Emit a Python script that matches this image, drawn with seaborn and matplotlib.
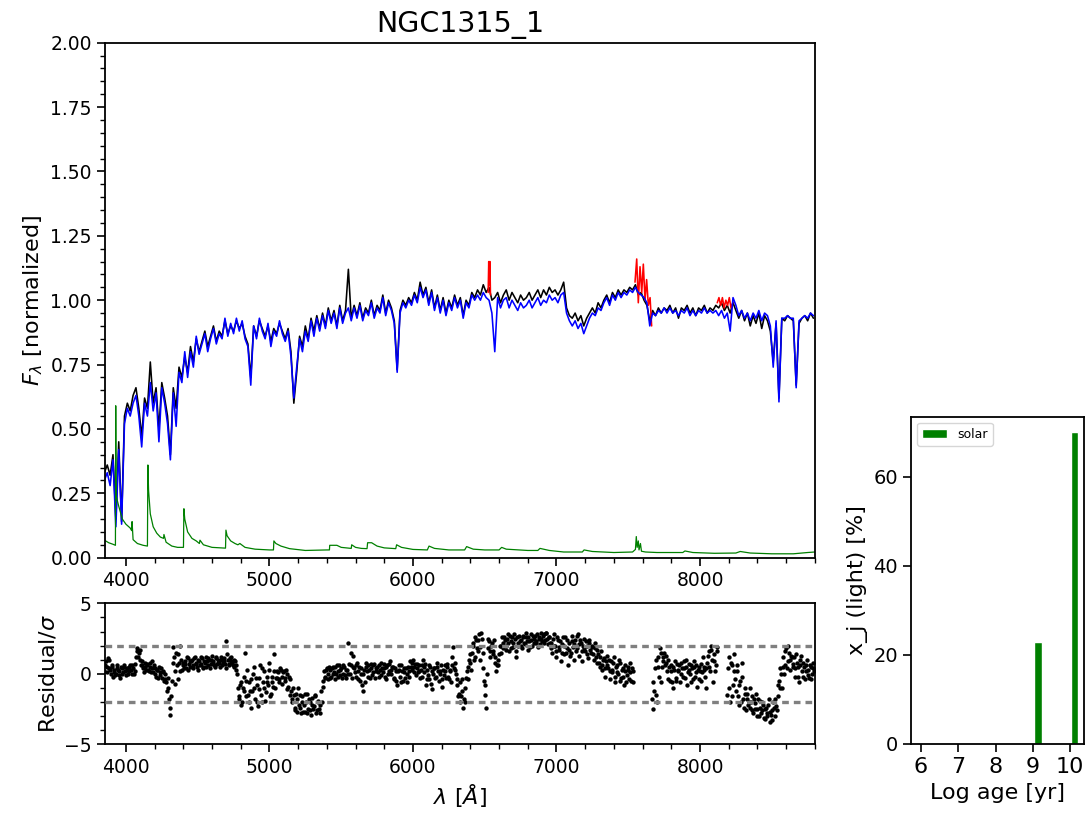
import numpy as np
import pandas as pd
import matplotlib
matplotlib.use("Agg")
import matplotlib.pyplot as plt
import seaborn as sns
from matplotlib.patches import Patch

# ---------------- data ----------------
title = "NGC1315_1"

# observed & model spectra on a 20 A grid starting at 3850 A
spec_start, spec_step = 3850, 20
obs_flux = [
    0.33, 0.36, 0.32, 0.40, 0.15, 0.45, 0.14, 0.55, 0.60, 0.57,
    0.63, 0.66, 0.58, 0.47, 0.62, 0.58, 0.76, 0.60, 0.66, 0.50,
    0.68, 0.62, 0.55, 0.40, 0.66, 0.58, 0.74, 0.70, 0.78, 0.72,
    0.82, 0.76, 0.85, 0.80, 0.84, 0.88, 0.82, 0.86, 0.90, 0.84,
    0.88, 0.86, 0.92, 0.87, 0.90, 0.88, 0.92, 0.89, 0.91, 0.86,
    0.83, 0.70, 0.90, 0.86, 0.92, 0.89, 0.86, 0.90, 0.84, 0.89,
    0.87, 0.91, 0.88, 0.85, 0.89, 0.80, 0.60, 0.72, 0.86, 0.82,
    0.90, 0.85, 0.93, 0.88, 0.94, 0.89, 0.95, 0.90, 0.97, 0.92,
    0.96, 0.90, 0.98, 0.92, 0.96, 1.12, 0.93, 0.98, 0.94, 0.99,
    0.93, 0.97, 0.95, 1.00, 0.94, 0.98, 0.96, 1.02, 0.95, 1.00,
    0.97, 0.92, 0.73, 0.96, 1.00, 0.98, 1.01, 0.99, 1.03, 1.00,
    1.07, 1.02, 1.05, 0.99, 1.04, 0.97, 1.02, 0.96, 1.01, 0.95,
    1.00, 0.97, 1.02, 0.98, 1.01, 0.94, 1.00, 0.98, 1.03, 1.01,
    1.04, 1.02, 1.06, 1.03, 1.05, 1.00, 1.01, 1.03, 0.99, 1.02,
    1.04, 1.00, 1.03, 1.01, 0.99, 1.02, 1.00, 1.01, 1.03, 1.00,
    1.02, 1.04, 1.01, 1.04, 1.02, 1.05, 1.03, 1.04, 1.02, 1.04,
    1.07, 0.97, 0.94, 0.93, 0.95, 0.92, 0.94, 0.90, 0.93, 0.95,
    0.97, 0.95, 0.99, 0.97, 1.00, 1.02, 0.99, 1.03, 1.01, 1.04,
    1.02, 1.04, 1.03, 1.05, 1.04, 1.06, 1.02, 1.03, 1.00, 0.98,
    0.92, 0.96, 0.94, 0.97, 0.95, 0.97, 0.96, 0.98, 0.95, 0.97,
    0.93, 0.97, 0.96, 0.98, 0.95, 0.97, 0.94, 0.97, 0.96, 0.98,
    0.95, 0.97, 0.96, 0.98, 0.97, 0.99, 0.96, 0.98, 0.95, 0.99,
    0.96, 0.93, 0.96, 0.92, 0.95, 0.90, 0.94, 0.91, 0.95, 0.89,
    0.94, 0.92, 0.88, 0.76, 0.91, 0.62, 0.93, 0.92, 0.94, 0.93,
    0.92, 0.67, 0.91, 0.93, 0.94, 0.92, 0.95, 0.93,
]
model_flux = [
    0.30, 0.33, 0.28, 0.38, 0.12, 0.42, 0.13, 0.52, 0.58, 0.55,
    0.60, 0.63, 0.55, 0.43, 0.60, 0.55, 0.68, 0.57, 0.64, 0.45,
    0.66, 0.60, 0.52, 0.38, 0.64, 0.51, 0.72, 0.68, 0.80, 0.70,
    0.80, 0.74, 0.86, 0.79, 0.83, 0.87, 0.80, 0.85, 0.89, 0.83,
    0.87, 0.85, 0.93, 0.86, 0.91, 0.87, 0.93, 0.88, 0.92, 0.85,
    0.82, 0.67, 0.90, 0.85, 0.93, 0.88, 0.85, 0.91, 0.82, 0.88,
    0.86, 0.92, 0.87, 0.84, 0.88, 0.78, 0.62, 0.74, 0.85, 0.80,
    0.88, 0.84, 0.92, 0.86, 0.93, 0.88, 0.94, 0.89, 0.96, 0.91,
    0.95, 0.89, 0.97, 0.91, 0.95, 0.97, 0.92, 0.97, 0.93, 0.98,
    0.92, 0.96, 0.94, 0.99, 0.93, 0.97, 0.95, 1.01, 0.94, 0.99,
    0.96, 0.91, 0.72, 0.95, 0.99, 0.97, 1.00, 0.98, 1.02, 0.99,
    1.05, 1.01, 1.04, 0.98, 1.03, 0.96, 1.01, 0.95, 1.00, 0.94,
    0.99, 0.96, 1.01, 0.97, 1.00, 0.93, 0.99, 0.97, 1.02, 1.00,
    1.02, 1.00, 1.03, 1.01, 1.00, 0.95, 0.80, 1.01, 0.97, 1.00,
    1.01, 0.97, 1.00, 0.98, 0.96, 0.99, 0.97, 0.98, 1.00, 0.97,
    0.99, 1.01, 0.98, 1.00, 0.99, 1.02, 1.00, 1.01, 0.99, 1.02,
    1.03, 0.95, 0.92, 0.90, 0.92, 0.89, 0.91, 0.87, 0.90, 0.93,
    0.95, 0.94, 0.97, 0.96, 0.99, 1.01, 0.98, 1.02, 1.00, 1.03,
    1.01, 1.03, 1.02, 1.04, 1.03, 1.05, 1.03, 1.02, 1.01, 0.99,
    0.90, 0.95, 0.94, 0.96, 0.95, 0.97, 0.95, 0.97, 0.95, 0.96,
    0.94, 0.96, 0.95, 0.97, 0.94, 0.96, 0.94, 0.96, 0.95, 0.97,
    0.95, 0.96, 0.95, 0.96, 0.94, 0.96, 0.93, 0.95, 0.88, 1.01,
    0.98, 0.94, 0.96, 0.93, 0.95, 0.92, 0.95, 0.93, 0.96, 0.92,
    0.95, 0.94, 0.90, 0.74, 0.92, 0.605, 0.93, 0.93, 0.94, 0.93,
    0.93, 0.66, 0.92, 0.93, 0.94, 0.93, 0.95, 0.94,
]

# masked (red) parts of the observed spectrum
masked_wave = [
    [6524, 6528, 6532, 6536, 6540],
    [7547, 7559, 7570, 7582, 7594, 7605, 7617, 7628, 7640, 7652, 7663],
    [8120, 8132, 8144, 8156, 8168, 8180, 8192, 8204, 8216, 8228],
]
masked_flux = [
    [1.03, 1.15, 1.06, 1.15, 1.02],
    [1.07, 1.16, 0.99, 1.13, 1.03, 1.14, 1.00, 1.08, 0.98, 1.01, 0.90],
    [0.99, 1.01, 0.98, 1.01, 0.97, 1.00, 0.98, 1.01, 0.97, 0.99],
]

# green component
emis_wave = [
    3850, 3880, 3910, 3927, 3929, 3932, 3950, 3975, 4000, 4030,
    4040, 4043, 4050, 4080, 4120, 4150, 4153, 4158, 4170, 4190,
    4215, 4240, 4262, 4265, 4280, 4320, 4360, 4401, 4404, 4410,
    4430, 4460, 4490, 4512, 4516, 4540, 4600, 4694, 4697, 4705,
    4730, 4760, 4780, 4794, 4830, 4900, 5000, 5028, 5031, 5045,
    5080, 5140, 5250, 5400, 5418, 5420, 5470, 5500, 5570, 5573,
    5600, 5640, 5680, 5684, 5712, 5750, 5800, 5880, 5886, 5920,
    6000, 6100, 6112, 6150, 6250, 6360, 6374, 6420, 6500, 6600,
    6618, 6650, 6800, 6870, 6885, 6950, 7050, 7180, 7192, 7250,
    7400, 7530, 7550, 7556, 7562, 7570, 7575, 7585, 7592, 7620,
    7700, 7880, 7895, 7950, 8100, 8250, 8280, 8350, 8500, 8650,
    8750, 8800,
]
emis_flux = [
    0.068, 0.058, 0.052, 0.048, 0.590, 0.240, 0.200, 0.150, 0.130, 0.115,
    0.105, 0.140, 0.070, 0.055, 0.048, 0.045, 0.360, 0.260, 0.170, 0.120,
    0.095, 0.080, 0.075, 0.090, 0.060, 0.045, 0.040, 0.040, 0.190, 0.150,
    0.100, 0.075, 0.065, 0.055, 0.068, 0.050, 0.040, 0.037, 0.107, 0.085,
    0.065, 0.055, 0.050, 0.055, 0.040, 0.033, 0.030, 0.030, 0.065, 0.055,
    0.045, 0.035, 0.028, 0.030, 0.030, 0.048, 0.048, 0.040, 0.036, 0.050,
    0.040, 0.036, 0.035, 0.058, 0.058, 0.045, 0.038, 0.035, 0.050, 0.040,
    0.032, 0.030, 0.045, 0.036, 0.030, 0.030, 0.043, 0.033, 0.030, 0.030,
    0.040, 0.033, 0.028, 0.028, 0.036, 0.028, 0.022, 0.022, 0.030, 0.024,
    0.020, 0.022, 0.032, 0.082, 0.040, 0.065, 0.030, 0.055, 0.025, 0.022,
    0.020, 0.020, 0.026, 0.020, 0.017, 0.018, 0.024, 0.018, 0.015, 0.015,
    0.020, 0.022,
]

# residual / sigma: two interleaved 10 A grids (3850+10k and 3855+10k); nan = masked
resid_step = 10
nan = float("nan")
resid_a_start = 3850
residual_a = [
    0.2, 0.9, 0.5, 1.0, 0.3, 0.6, -0.2, 0.3, 0.0, 0.4,
    0.2, -0.3, 0.4, 0.1, 0.5, -0.1, 0.3, 0.2, 0.6, 0.0,
    0.4, 0.2, 1.2, 1.8, 1.5, 1.0, 0.6, 0.4, 0.8, 0.3,
    0.6, 0.2, 0.5, 0.9, 0.1, 0.4, -0.2, 0.3, 0.5, -0.1,
    -0.3, 0.2, -0.4, -0.6, -1.0, -1.8, -2.9, -0.5, 1.9, 0.2,
    1.5, -0.4, 0.8, 2.0, 0.3, 0.6, 0.9, 0.4, 1.1, 0.7,
    0.5, 1.0, 0.6, 1.2, 0.8, 0.3, 0.9, 0.7, 1.1, 0.5,
    0.8, 1.2, 0.6, 1.0, 0.7, 1.3, 0.9, 0.5, 1.1, 0.8,
    0.8, 1.0, 0.6, 0.9, 0.7, 2.3, 1.0, 0.6, 1.2, 0.8,
    0.5, 0.9, 0.3, -1.0, -1.8, -0.6, -2.0, -1.2, 1.5, -0.5,
    -1.5, -2.0, -0.4, -1.2, 0.5, -1.8, -0.8, -2.3, -0.3, -1.5,
    0.4, -1.0, -1.9, -0.2, -0.8, 0.3, -1.4, -0.6, 1.4, -1.0,
    -0.3, 0.1, -0.6, 0.3, -0.2, 0.2, -0.5, 0.0, -0.9, -0.4,
    -1.2, -2.0, -1.5, -2.6, -1.8, -1.0, -2.4, -2.8, -1.6, -2.2,
    -2.7, -1.4, -2.5, -2.0, -2.9, -1.7, -2.3, -1.5, -2.6, -2.0,
    -2.8, -1.2, -0.5, 0.2, -0.3, 0.4, 0.0, 0.3, -0.2, 0.5,
    0.1, -0.4, 0.6, 0.2, -0.1, 0.4, 0.0, 0.5, -0.3, 0.3,
    2.2, 0.0, 0.6, 1.3, 0.4, -0.2, 0.8, 0.2, -0.5, 0.4,
    -1.2, 0.3, 0.8, 0.2, 0.6, -0.3, 0.4, 0.1, 0.7, 0.2,
    0.5, -0.2, 0.3, 0.8, 0.1, 0.4, -0.4, 0.6, 0.2, 0.9,
    0.0, 0.5, -0.3, 0.2, -0.8, 0.3, -0.2, 0.6, -0.5, 0.1,
    0.4, -0.6, 0.2, 0.9, 0.3, 1.0, 0.5, -0.1, 0.7, 0.2,
    -0.3, 0.6, 1.0, 0.1, -0.8, 0.3, -0.4, 0.5, -1.1, 0.0,
    0.4, -0.2, 0.8, -0.5, 0.2, -0.9, 0.3, 0.6, -0.3, 0.5,
    -0.4, 0.2, 0.6, 1.9, 0.8, 0.0, -0.8, -1.4, -2.0, -1.2,
    -2.4, -1.0, -0.3, 0.5, 1.0, 0.8, 1.5, 2.0, 1.2, 2.4,
    1.6, 2.8, 1.0, 2.5, 0.4, -1.5, -2.4, 1.8, 2.3, 1.2,
    2.2, 1.6, 0.8, 0.2, 0.6, 1.4, 2.0, 2.6, 1.8, 2.4,
    2.0, 2.8, 1.6, 2.3, 2.6, 1.9, 2.5, 1.2, 2.2, 2.7,
    2.4, 1.8, 2.6, 2.1, 2.9, 1.7, 2.3, 2.8, 2.0, 2.5,
    2.7, 2.2, 1.9, 2.6, 2.9, 2.3, 2.8, 2.4, 2.9, 2.1,
    2.6, 2.2, 1.5, 2.8, 2.0, 1.2, 2.4, 1.7, 0.9, 2.1,
    1.4, 2.6, 1.8, 0.6, 2.2, 1.5, 2.7, 1.0, 2.4, 1.8,
    2.8, 1.3, 2.2, 0.9, 2.5, 1.6, 2.0, 1.1, 2.4, 1.5,
    1.9, 1.0, 2.2, 0.8, 1.4, 0.5, 1.6, 0.3, 1.1, -0.2,
    1.3, 0.4, -0.4, 0.9, 0.1, 1.2, -0.6, 0.6, 0.0, 0.8,
    -0.3, 0.4, -0.8, 0.6, -0.1, 0.3, 0.8, -0.5, 0.2, nan,
    nan, nan, nan, nan, nan, nan, nan, nan, nan, nan,
    nan, nan, -2.5, -1.2, 1.0, -2.0, 0.5, 1.8, -0.6, 1.2,
    1.5, 0.8, 0.2, 1.0, -0.5, 0.6, -1.0, 0.3, -0.3, 0.7,
    0.2, -0.6, 0.8, -0.2, 0.4, 1.0, -0.8, 0.3, 0.0, 0.6,
    -0.4, 0.9, 0.1, -0.9, 0.5, 0.2, -0.5, 1.2, 0.3, -1.0,
    0.8, 1.6, 0.2, 2.0, -0.6, 1.4, 0.6, 1.9, nan, nan,
    nan, nan, nan, nan, -1.5, 1.2, -2.0, 0.6, -0.8, 1.4,
    -1.2, 0.2, -2.2, -0.5, 0.8, -1.8, -1.0, -2.6, -1.4, -2.0,
    -2.4, -1.6, -2.8, -2.1, -1.4, -2.5, -3.0, -1.9, -2.6, -2.2,
    -3.2, -2.4, -2.8, -1.8, -3.4, -2.6, -2.0, -3.0, -2.3, -1.6,
    -0.5, 0.4, -1.0, 1.2, 0.6, 1.8, 0.9, 1.5, 0.3, 1.2,
    0.7, -0.2, 1.4, 0.5, -0.6, 1.0, 0.2, 0.8, -0.4, 0.6,
    0.3, -0.3, 0.5, 0.0, 0.8,
]
resid_b_start = 3855
residual_b = [
    0.6, 0.1, 1.1, 0.4, 0.0, 0.5, 0.1, -0.1, 0.6, 0.3,
    -0.1, 0.5, 0.0, 0.6, 0.2, 0.4, 0.0, 0.5, 0.3, 0.6,
    0.0, 0.7, 1.6, 1.2, 1.7, 0.6, 0.9, 0.1, 0.5, 0.7,
    0.3, 0.8, 0.1, 0.4, 0.6, 0.0, 0.3, -0.3, 0.1, 0.4,
    0.1, -0.5, 0.0, -1.2, -0.3, -2.4, -1.6, 0.8, 1.2, -0.7,
    0.6, 1.4, 0.2, 1.0, 0.8, 0.4, 0.7, 1.2, 0.3, 0.9,
    0.9, 0.4, 1.1, 0.7, 0.5, 1.0, 0.6, 1.2, 0.4, 0.9,
    0.5, 0.9, 1.1, 0.4, 1.0, 0.8, 0.6, 1.2, 0.7, 1.0,
    0.5, 1.2, 0.8, 1.1, 0.4, 1.4, 0.7, 1.1, 0.9, 0.6,
    1.0, 0.6, 0.0, -1.6, -0.8, -2.2, -1.0, -0.2, -1.6, 0.3,
    -0.6, -1.2, -2.4, 0.0, -1.0, -0.3, -2.0, -1.1, 0.6, -2.0,
    -0.6, 0.2, -1.3, -0.6, 0.8, -1.6, -0.2, -0.9, 0.2, -0.3,
    0.2, -0.4, 0.4, -0.7, 0.1, -0.3, 0.3, -1.1, -0.2, -1.5,
    -1.8, -1.0, -2.4, -1.4, -2.7, -2.2, -1.5, -2.0, -2.7, -1.4,
    -2.0, -2.8, -1.8, -2.6, -2.2, -2.5, -1.6, -2.8, -1.9, -2.5,
    -2.2, -2.0, -0.9, -0.2, 0.3, -0.4, 0.5, -0.3, 0.4, 0.0,
    0.5, 0.0, -0.2, 0.6, 0.3, -0.3, 0.6, -0.1, 0.3, 0.0,
    0.7, 1.5, -0.3, 0.5, 0.1, 0.6, -0.4, 0.5, 0.0, -0.8,
    0.0, -0.6, 0.5, -0.2, 0.3, 0.7, -0.1, 0.6, -0.3, 0.4,
    0.1, 0.6, -0.1, 0.4, 0.7, -0.2, 0.5, 0.0, 0.7, 0.3,
    0.5, -0.4, 0.4, -0.5, 0.2, 0.6, -0.6, 0.2, 0.4, -0.3,
    0.0, 0.5, -0.2, 0.5, 0.8, 0.1, 0.7, 0.4, 0.1, 0.6,
    0.3, -0.2, 0.5, 0.7, -0.4, -0.1, 0.6, -0.7, 0.2, 0.4,
    -0.3, 0.5, 0.2, 0.0, 0.6, -0.4, -0.1, 0.2, 0.7, -0.2,
    0.3, -0.6, 1.2, 0.4, 0.3, -0.4, -1.6, -0.6, -1.6, -0.4,
    -1.8, -2.0, 0.2, -0.4, 1.4, 0.3, 2.2, 1.0, 2.6, 1.8,
    2.4, 1.9, 2.9, 1.5, -0.5, -0.8, 0.0, 2.5, 1.6, 2.0,
    1.4, 2.4, 1.2, 0.6, 1.0, 2.0, 1.5, 2.2, 2.6, 1.7,
    2.5, 2.2, 2.7, 1.8, 2.2, 2.8, 1.6, 2.6, 2.0, 2.3,
    2.0, 2.7, 2.2, 2.6, 2.3, 2.6, 1.9, 2.4, 2.7, 2.2,
    2.3, 2.8, 2.5, 2.1, 2.5, 2.7, 2.2, 2.9, 2.5, 2.6,
    2.2, 1.8, 2.5, 2.0, 1.6, 2.6, 1.9, 2.3, 1.5, 2.6,
    2.0, 1.5, 2.4, 1.7, 1.3, 2.3, 1.9, 2.1, 1.6, 2.7,
    2.1, 2.4, 1.6, 2.0, 1.8, 2.3, 1.4, 2.2, 1.7, 2.0,
    1.4, 1.8, 1.2, 1.7, 0.8, 1.2, 0.6, 1.0, 0.4, 0.9,
    0.6, 1.0, 0.2, 0.3, 0.8, -0.2, 0.5, 0.1, 1.0, -0.5,
    0.3, -0.2, 0.2, -0.6, 0.5, -0.4, 0.1, 0.4, -0.6, nan,
    nan, nan, nan, nan, nan, nan, nan, nan, nan, nan,
    nan, -1.8, -0.6, 0.4, -1.5, 1.2, -0.2, 1.5, 0.5, 0.9,
    0.6, 1.3, -0.4, 0.5, 0.2, -0.6, 0.5, 0.9, -0.5, 0.3,
    0.6, 0.0, 0.4, 0.9, -0.3, 0.5, 0.1, 0.7, -0.6, 0.4,
    0.5, -0.2, 0.6, 0.3, -0.4, 0.7, 0.1, 0.5, -0.2, 0.4,
    1.3, 0.5, 1.7, 1.0, 0.9, 0.2, 1.6, nan, nan, nan,
    nan, nan, nan, nan, 0.4, -1.0, 0.8, -1.6, 0.2, -0.4,
    0.6, -1.6, -0.8, -2.0, -0.2, -2.4, -1.4, -1.8, -2.2, -1.0,
    -2.0, -2.6, -1.8, -2.5, -3.0, -1.8, -2.4, -2.8, -2.0, -3.1,
    -2.5, -3.0, -2.2, -2.7, -2.9, -3.3, -2.4, -1.8, -2.6, -0.8,
    -1.0, 0.0, 0.5, 0.0, 1.6, 0.4, 2.0, 1.0, 1.3, 0.5,
    1.2, 0.4, 0.8, -0.2, 0.6, 1.3, -0.2, 0.5, 0.2, 1.0,
    -0.1, 0.6, -0.4, 0.4, 0.2,
]
sigma_lines = [2, -2]

# star formation history panel
log_age = [9.14, 10.11]
light_frac = [23.0, 70.0]
pop_label = "solar"

# ---------------- style ----------------
sns.set_style("ticks")
plt.rcParams.update({
    "font.family": ["DejaVu Sans"],
    "mathtext.fontset": "dejavusans",
    "axes.edgecolor": "black",
    "axes.labelcolor": "black",
    "text.color": "black",
    "xtick.color": "black",
    "ytick.color": "black",
    "axes.linewidth": 1.3,
    "xtick.major.size": 6, "ytick.major.size": 6,
    "xtick.minor.size": 3.5, "ytick.minor.size": 3.5,
    "xtick.major.width": 1.2, "ytick.major.width": 1.2,
    "xtick.minor.width": 1.0, "ytick.minor.width": 1.0,
    "xtick.labelsize": 13.5, "ytick.labelsize": 13.5,
    "axes.labelsize": 16,
})

spec_wave = spec_start + spec_step * np.arange(len(obs_flux))
spec_df = pd.DataFrame({"wave": spec_wave, "obs": obs_flux, "model": model_flux})
mask_df = pd.concat(
    [pd.DataFrame({"wave": w, "flux": f, "seg": i})
     for i, (w, f) in enumerate(zip(masked_wave, masked_flux))],
    ignore_index=True)
emis_df = pd.DataFrame({"wave": emis_wave, "flux": emis_flux})
resid_df = pd.concat([
    pd.DataFrame({"wave": resid_a_start + resid_step * np.arange(len(residual_a)),
                  "res": residual_a}),
    pd.DataFrame({"wave": resid_b_start + resid_step * np.arange(len(residual_b)),
                  "res": residual_b}),
], ignore_index=True).dropna()
sfh_df = pd.DataFrame({"age": log_age, "frac": light_frac})

fig = plt.figure(figsize=(10.91, 8.23), dpi=100)
ax1 = fig.add_axes([0.0962, 0.3224, 0.6508, 0.6257])
ax2 = fig.add_axes([0.0962, 0.0956, 0.6508, 0.1713])
ax3 = fig.add_axes([0.835, 0.096, 0.1589, 0.3977])

xlim = (3854, 8801)

# ---- main spectrum
sns.lineplot(data=spec_df, x="wave", y="obs", color="black", lw=1.15,
             estimator=None, sort=False, ax=ax1)
sns.lineplot(data=mask_df, x="wave", y="flux", units="seg", color="red",
             lw=1.15, estimator=None, sort=False, ax=ax1)
sns.lineplot(data=spec_df, x="wave", y="model", color="blue", lw=1.15,
             estimator=None, sort=False, ax=ax1)
sns.lineplot(data=emis_df, x="wave", y="flux", color="green", lw=0.9,
             estimator=None, sort=False, ax=ax1)
ax1.set_xlim(*xlim)
ax1.set_ylim(0, 2)
ax1.set_yticks(np.arange(0, 2.01, 0.25))
ax1.minorticks_on()
ax1.set_xlabel("")
ax1.set_ylabel(r"$F_\lambda$ [normalized]")
ax1.set_title(title, fontsize=20.5, pad=8)

# ---- residuals
sns.scatterplot(data=resid_df, x="wave", y="res", color="black", s=10,
                linewidth=0, ax=ax2, zorder=2)
for yv in sigma_lines:
    ax2.axhline(yv, color="gray", ls=(0, (2, 1.5)), lw=2.4, zorder=3)
ax2.set_xlim(*xlim)
ax2.set_ylim(-5, 5)
ax2.set_yticks([-5, 0, 5])
ax2.minorticks_on()
ax2.set_xlabel(r"$\lambda$ [$\AA$]")
ax2.set_ylabel(r"Residual/$\sigma$")

# ---- SFH bars
gap = np.diff(sorted(log_age)).min()
sns.barplot(data=sfh_df, x="age", y="frac", native_scale=True, orient="x",
            width=0.2 / gap, color="green", saturation=1, errorbar=None,
            ax=ax3)
ax3.set_xlim(5.73, 10.38)
ax3.set_ylim(0, 73.5)
ax3.set_xticks([6, 7, 8, 9, 10])
ax3.set_xticklabels(["6", "7", "8", "9", "10"], fontsize=16)
ax3.set_yticks([0, 20, 40, 60])
ax3.tick_params(axis="y", labelsize=14)
ax3.set_xlabel("Log age [yr]")
ax3.set_ylabel("x_j (light) [%]")
ax3.legend(handles=[Patch(facecolor="green", label=pop_label)],
           loc="upper left", fontsize=9)

fig.savefig("out.png", dpi=100)
